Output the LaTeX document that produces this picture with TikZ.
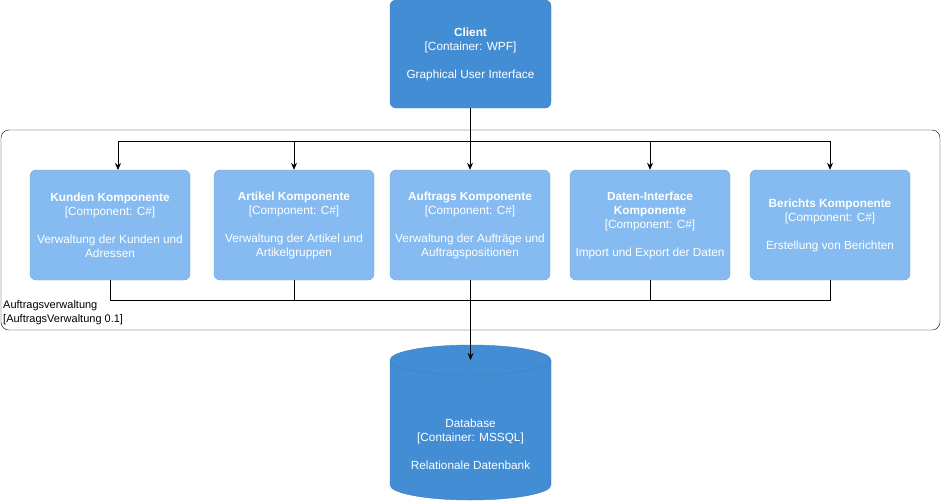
\documentclass[tikz,border=0pt]{standalone}
\usepackage{fontspec}
\setmainfont{Liberation Sans}
\usetikzlibrary{shapes.geometric,arrows.meta}
\definecolor{dk}{HTML}{438DD5}
\definecolor{dkb}{HTML}{3C7FC0}
\definecolor{lt}{HTML}{85BBF0}
\definecolor{ltb}{HTML}{78A8D8}
\begin{document}
\begin{tikzpicture}[x=1pt,y=-1pt,
  txt/.style={text=white,align=center,font=\fontsize{11.8}{14}\selectfont},
  cont/.style={txt,draw=dkb,fill=dk,rounded corners=6pt,minimum width=161pt,minimum height=108pt,inner sep=0pt},
  comp/.style={txt,draw=ltb,fill=lt,rounded corners=6pt,minimum width=160pt,minimum height=110pt,inner sep=0pt},
  conn/.style={line width=0.8pt},
  arr/.style={conn,-{Stealth[length=7pt,width=6pt]}}]
\useasboundingbox (0,0) rectangle (941,501);
\node[draw=black,rounded corners=8pt,minimum width=939pt,minimum height=200pt,inner sep=0pt] (bnd) at (470.5,230) {};
\node[anchor=north west,align=left,inner sep=0pt,font=\fontsize{11}{14}\selectfont] (bl) at (3,300) {Auftragsverwaltung\\{}[AuftragsVerwaltung 0.1]};
\node[cont] (client) at (470.5,54) {\textbf{Client}\\{}[Container: WPF]\\[14pt]Graphical User Interface};
\node[comp] (k) at (110,225) {\textbf{Kunden Komponente}\\{}[Component: C\#]\\[14pt]Verwaltung der Kunden und\\Adressen};
\node[comp] (a) at (294,225) {\textbf{Artikel Komponente}\\{}[Component: C\#]\\[14pt]Verwaltung der Artikel und\\Artikelgruppen};
\node[comp] (au) at (470,225) {\textbf{Auftrags Komponente}\\{}[Component: C\#]\\[14pt]Verwaltung der Aufträge und\\Auftragspositionen};
\node[comp] (d) at (650,225) {\textbf{Daten-Interface}\\\textbf{Komponente}\\{}[Component: C\#]\\[14pt]Import und Export der Daten};
\node[comp] (b) at (830,225) {\textbf{Berichts Komponente}\\{}[Component: C\#]\\[14pt]Erstellung von Berichten};
% database cylinder
\coordinate (dbt) at (470.5,360);
\draw[draw=dkb,fill=dk] (390,360) -- (390,485) arc[start angle=180,end angle=0,x radius=80.5,y radius=15] -- (551,360) arc[start angle=0,end angle=-180,x radius=80.5,y radius=15] -- cycle;
\draw[dkb] (390,360) arc[start angle=180,end angle=0,x radius=80.5,y radius=15];
\node[txt] (db) at (470.5,444) {Database\\{}[Container: MSSQL]\\[14pt]Relationale Datenbank};
% connectors
\coordinate (top) at (470.5,141);
\draw[conn] (client.south) -- (top);
\draw[conn] (118,141) -- (830,141);
\draw[arr] (118,141) -- (118,170);
\draw[arr] (294,141) -- (a.north);
\draw[arr] (470,141) -- (au.north);
\draw[arr] (650,141) -- (d.north);
\draw[arr] (830,141) -- (b.north);
\draw[conn] (k.south) -- (110,300) -- (830,300) -- (b.south);
\draw[conn] (a.south) -- (294,300);
\draw[conn] (au.south) -- (470,300);
\draw[conn] (d.south) -- (650,300);
\draw[arr] (470.5,300) -- (dbt);
\end{tikzpicture}
\end{document}
